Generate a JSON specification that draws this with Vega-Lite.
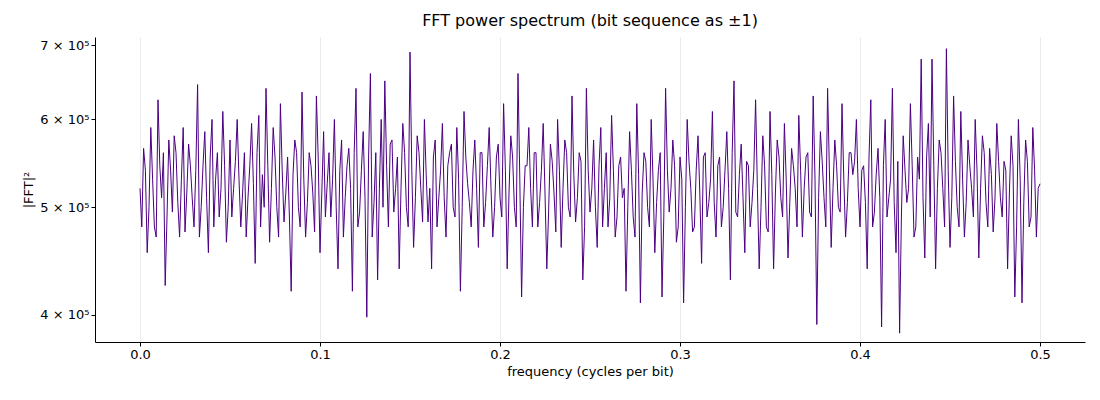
{
  "$schema": "https://vega.github.io/schema/vega-lite/v6.json",
  "width": 990,
  "height": 305,
  "autosize": "none",
  "padding": {"left": 95, "top": 37, "right": 15, "bottom": 58},
  "background": "white",
  "title": {"text": "FFT power spectrum (bit sequence as ±1)", "font": "DejaVu Sans", "fontSize": 16, "fontWeight": "normal", "offset": 8},
  "data": {"values": [
{"f":0.000,"p":520000},{"f":0.002,"p":565000},{"f":0.004,"p":455000},{"f":0.006,"p":590000},{"f":0.008,"p":480000},{"f":0.010,"p":625000},{"f":0.012,"p":510000},{"f":0.014,"p":425000},{"f":0.016,"p":575000},{"f":0.018,"p":495000},
{"f":0.020,"p":560000},{"f":0.022,"p":470000},{"f":0.024,"p":590000},{"f":0.026,"p":515000},{"f":0.028,"p":545000},{"f":0.030,"p":480000},{"f":0.032,"p":645000},{"f":0.034,"p":500000},{"f":0.036,"p":585000},{"f":0.038,"p":455000},
{"f":0.040,"p":600000},{"f":0.042,"p":530000},{"f":0.044,"p":490000},{"f":0.046,"p":610000},{"f":0.048,"p":465000},{"f":0.050,"p":575000},{"f":0.052,"p":520000},{"f":0.054,"p":600000},{"f":0.056,"p":480000},{"f":0.058,"p":560000},
{"f":0.060,"p":510000},{"f":0.062,"p":595000},{"f":0.064,"p":445000},{"f":0.066,"p":605000},{"f":0.068,"p":535000},{"f":0.070,"p":640000},{"f":0.072,"p":465000},{"f":0.074,"p":590000},{"f":0.076,"p":500000},{"f":0.078,"p":620000},
{"f":0.080,"p":485000},{"f":0.082,"p":555000},{"f":0.084,"p":420000},{"f":0.086,"p":575000},{"f":0.088,"p":500000},{"f":0.090,"p":635000},{"f":0.092,"p":470000},{"f":0.094,"p":560000},{"f":0.096,"p":515000},{"f":0.098,"p":630000},
{"f":0.100,"p":455000},{"f":0.102,"p":585000},{"f":0.104,"p":525000},{"f":0.106,"p":490000},{"f":0.108,"p":600000},{"f":0.110,"p":440000},{"f":0.112,"p":575000},{"f":0.114,"p":510000},{"f":0.116,"p":565000},{"f":0.118,"p":420000},
{"f":0.120,"p":640000},{"f":0.122,"p":495000},{"f":0.124,"p":585000},{"f":0.126,"p":398000},{"f":0.128,"p":660000},{"f":0.130,"p":505000},{"f":0.132,"p":430000},{"f":0.134,"p":600000},{"f":0.136,"p":650000},{"f":0.138,"p":480000},
{"f":0.140,"p":575000},{"f":0.142,"p":520000},{"f":0.144,"p":440000},{"f":0.146,"p":595000},{"f":0.148,"p":500000},{"f":0.150,"p":690000},{"f":0.152,"p":460000},{"f":0.154,"p":580000},{"f":0.156,"p":520000},{"f":0.158,"p":600000},
{"f":0.160,"p":485000},{"f":0.162,"p":440000},{"f":0.164,"p":575000},{"f":0.166,"p":510000},{"f":0.168,"p":595000},{"f":0.170,"p":470000},{"f":0.172,"p":560000},{"f":0.174,"p":500000},{"f":0.176,"p":590000},{"f":0.178,"p":420000},
{"f":0.180,"p":610000},{"f":0.182,"p":525000},{"f":0.184,"p":480000},{"f":0.186,"p":575000},{"f":0.188,"p":460000},{"f":0.190,"p":560000},{"f":0.192,"p":505000},{"f":0.194,"p":590000},{"f":0.196,"p":470000},{"f":0.198,"p":555000},
{"f":0.200,"p":510000},{"f":0.202,"p":620000},{"f":0.204,"p":440000},{"f":0.206,"p":580000},{"f":0.208,"p":500000},{"f":0.210,"p":660000},{"f":0.212,"p":415000},{"f":0.214,"p":545000},{"f":0.216,"p":590000},{"f":0.218,"p":480000},
{"f":0.220,"p":560000},{"f":0.222,"p":505000},{"f":0.224,"p":595000},{"f":0.226,"p":440000},{"f":0.228,"p":570000},{"f":0.230,"p":515000},{"f":0.232,"p":600000},{"f":0.234,"p":460000},{"f":0.236,"p":575000},{"f":0.238,"p":500000},
{"f":0.240,"p":630000},{"f":0.242,"p":485000},{"f":0.244,"p":560000},{"f":0.246,"p":430000},{"f":0.248,"p":640000},{"f":0.250,"p":495000},{"f":0.252,"p":575000},{"f":0.254,"p":460000},{"f":0.256,"p":590000},{"f":0.258,"p":520000},
{"f":0.260,"p":480000},{"f":0.262,"p":605000},{"f":0.264,"p":470000},{"f":0.266,"p":545000},{"f":0.268,"p":510000},{"f":0.270,"p":420000},{"f":0.272,"p":585000},{"f":0.274,"p":490000},{"f":0.276,"p":620000},{"f":0.278,"p":410000},
{"f":0.280,"p":560000},{"f":0.282,"p":500000},{"f":0.284,"p":600000},{"f":0.286,"p":455000},{"f":0.288,"p":540000},{"f":0.290,"p":415000},{"f":0.292,"p":640000},{"f":0.294,"p":495000},{"f":0.296,"p":575000},{"f":0.298,"p":465000},
{"f":0.300,"p":555000},{"f":0.302,"p":410000},{"f":0.304,"p":600000},{"f":0.306,"p":520000},{"f":0.308,"p":480000},{"f":0.310,"p":580000},{"f":0.312,"p":445000},{"f":0.314,"p":560000},{"f":0.316,"p":505000},{"f":0.318,"p":610000},
{"f":0.320,"p":470000},{"f":0.322,"p":555000},{"f":0.324,"p":500000},{"f":0.326,"p":585000},{"f":0.328,"p":430000},{"f":0.330,"p":650000},{"f":0.332,"p":490000},{"f":0.334,"p":570000},{"f":0.336,"p":455000},{"f":0.338,"p":545000},
{"f":0.340,"p":505000},{"f":0.342,"p":625000},{"f":0.344,"p":440000},{"f":0.346,"p":580000},{"f":0.348,"p":480000},{"f":0.350,"p":610000},{"f":0.352,"p":440000},{"f":0.354,"p":575000},{"f":0.356,"p":510000},{"f":0.358,"p":595000},
{"f":0.360,"p":450000},{"f":0.362,"p":565000},{"f":0.364,"p":520000},{"f":0.366,"p":605000},{"f":0.368,"p":470000},{"f":0.370,"p":555000},{"f":0.372,"p":495000},{"f":0.374,"p":630000},{"f":0.376,"p":392000},{"f":0.378,"p":585000},
{"f":0.380,"p":510000},{"f":0.382,"p":640000},{"f":0.384,"p":460000},{"f":0.386,"p":575000},{"f":0.388,"p":500000},{"f":0.390,"p":620000},{"f":0.392,"p":470000},{"f":0.394,"p":560000},{"f":0.396,"p":535000},{"f":0.398,"p":600000},
{"f":0.400,"p":480000},{"f":0.402,"p":545000},{"f":0.404,"p":440000},{"f":0.406,"p":625000},{"f":0.408,"p":495000},{"f":0.410,"p":565000},{"f":0.412,"p":390000},{"f":0.414,"p":600000},{"f":0.416,"p":510000},{"f":0.418,"p":640000},
{"f":0.420,"p":455000},{"f":0.422,"p":385000},{"f":0.424,"p":580000},{"f":0.426,"p":505000},{"f":0.428,"p":620000},{"f":0.430,"p":470000},{"f":0.432,"p":555000},{"f":0.434,"p":680000},{"f":0.436,"p":450000},{"f":0.438,"p":595000},
{"f":0.440,"p":680000},{"f":0.442,"p":440000},{"f":0.444,"p":575000},{"f":0.446,"p":520000},{"f":0.448,"p":695000},{"f":0.450,"p":460000},{"f":0.452,"p":630000},{"f":0.454,"p":500000},{"f":0.456,"p":610000},{"f":0.458,"p":470000},
{"f":0.460,"p":575000},{"f":0.462,"p":520000},{"f":0.464,"p":600000},{"f":0.466,"p":450000},{"f":0.468,"p":580000},{"f":0.470,"p":505000},{"f":0.472,"p":565000},{"f":0.474,"p":475000},{"f":0.476,"p":595000},{"f":0.478,"p":510000},
{"f":0.480,"p":550000},{"f":0.482,"p":440000},{"f":0.484,"p":580000},{"f":0.486,"p":415000},{"f":0.488,"p":600000},{"f":0.490,"p":410000},{"f":0.492,"p":575000},{"f":0.494,"p":480000},{"f":0.496,"p":590000},{"f":0.498,"p":470000},
{"f":0.500,"p":525000},
{"f":0.001,"p":480000},{"f":0.003,"p":540000},{"f":0.005,"p":500000},{"f":0.007,"p":530000},{"f":0.009,"p":470000},{"f":0.011,"p":545000},{"f":0.013,"p":560000},{"f":0.015,"p":490000},{"f":0.017,"p":540000},{"f":0.019,"p":580000},
{"f":0.021,"p":505000},{"f":0.023,"p":530000},{"f":0.025,"p":475000},{"f":0.027,"p":570000},{"f":0.029,"p":510000},{"f":0.031,"p":540000},{"f":0.033,"p":470000},{"f":0.035,"p":545000},{"f":0.037,"p":510000},{"f":0.039,"p":555000},
{"f":0.041,"p":480000},{"f":0.043,"p":560000},{"f":0.045,"p":520000},{"f":0.047,"p":545000},{"f":0.049,"p":500000},{"f":0.051,"p":490000},{"f":0.053,"p":550000},{"f":0.055,"p":530000},{"f":0.057,"p":515000},{"f":0.059,"p":470000},
{"f":0.061,"p":545000},{"f":0.063,"p":525000},{"f":0.065,"p":560000},{"f":0.067,"p":480000},{"f":0.069,"p":500000},{"f":0.071,"p":545000},{"f":0.073,"p":520000},{"f":0.075,"p":555000},{"f":0.077,"p":470000},{"f":0.079,"p":540000},
{"f":0.081,"p":515000},{"f":0.083,"p":490000},{"f":0.085,"p":535000},{"f":0.087,"p":560000},{"f":0.089,"p":480000},{"f":0.091,"p":530000},{"f":0.093,"p":505000},{"f":0.095,"p":545000},{"f":0.097,"p":475000},{"f":0.099,"p":555000},
{"f":0.101,"p":515000},{"f":0.103,"p":490000},{"f":0.105,"p":560000},{"f":0.107,"p":530000},{"f":0.109,"p":500000},{"f":0.111,"p":540000},{"f":0.113,"p":470000},{"f":0.115,"p":545000},{"f":0.117,"p":520000},{"f":0.119,"p":560000},
{"f":0.121,"p":480000},{"f":0.123,"p":540000},{"f":0.125,"p":510000},{"f":0.127,"p":555000},{"f":0.129,"p":470000},{"f":0.131,"p":560000},{"f":0.133,"p":520000},{"f":0.135,"p":500000},{"f":0.137,"p":545000},{"f":0.139,"p":570000},
{"f":0.141,"p":495000},{"f":0.143,"p":555000},{"f":0.145,"p":520000},{"f":0.147,"p":560000},{"f":0.149,"p":480000},{"f":0.151,"p":540000},{"f":0.153,"p":510000},{"f":0.155,"p":560000},{"f":0.157,"p":485000},{"f":0.159,"p":535000},
{"f":0.161,"p":520000},{"f":0.163,"p":555000},{"f":0.165,"p":480000},{"f":0.167,"p":540000},{"f":0.169,"p":510000},{"f":0.171,"p":545000},{"f":0.173,"p":570000},{"f":0.175,"p":490000},{"f":0.177,"p":530000},{"f":0.179,"p":500000},
{"f":0.181,"p":555000},{"f":0.183,"p":505000},{"f":0.185,"p":540000},{"f":0.187,"p":520000},{"f":0.189,"p":560000},{"f":0.191,"p":480000},{"f":0.193,"p":545000},{"f":0.195,"p":520000},{"f":0.197,"p":500000},{"f":0.199,"p":570000},
{"f":0.201,"p":490000},{"f":0.203,"p":540000},{"f":0.205,"p":515000},{"f":0.207,"p":555000},{"f":0.209,"p":480000},{"f":0.211,"p":530000},{"f":0.213,"p":500000},{"f":0.215,"p":545000},{"f":0.217,"p":520000},{"f":0.219,"p":560000},
{"f":0.221,"p":480000},{"f":0.223,"p":540000},{"f":0.225,"p":515000},{"f":0.227,"p":495000},{"f":0.229,"p":550000},{"f":0.231,"p":475000},{"f":0.233,"p":540000},{"f":0.235,"p":520000},{"f":0.237,"p":560000},{"f":0.239,"p":490000},
{"f":0.241,"p":535000},{"f":0.243,"p":510000},{"f":0.245,"p":550000},{"f":0.247,"p":480000},{"f":0.249,"p":540000},{"f":0.251,"p":520000},{"f":0.253,"p":500000},{"f":0.255,"p":545000},{"f":0.257,"p":480000},{"f":0.259,"p":560000},
{"f":0.261,"p":510000},{"f":0.263,"p":540000},{"f":0.265,"p":490000},{"f":0.267,"p":555000},{"f":0.269,"p":520000},{"f":0.271,"p":500000},{"f":0.273,"p":540000},{"f":0.275,"p":470000},{"f":0.277,"p":535000},{"f":0.279,"p":515000},
{"f":0.281,"p":550000},{"f":0.283,"p":480000},{"f":0.285,"p":530000},{"f":0.287,"p":505000},{"f":0.289,"p":560000},{"f":0.291,"p":490000},{"f":0.293,"p":540000},{"f":0.295,"p":520000},{"f":0.297,"p":545000},{"f":0.299,"p":480000},
{"f":0.301,"p":530000},{"f":0.303,"p":500000},{"f":0.305,"p":550000},{"f":0.307,"p":475000},{"f":0.309,"p":540000},{"f":0.311,"p":515000},{"f":0.313,"p":555000},{"f":0.315,"p":490000},{"f":0.317,"p":530000},{"f":0.319,"p":505000},
{"f":0.321,"p":545000},{"f":0.323,"p":480000},{"f":0.325,"p":540000},{"f":0.327,"p":520000},{"f":0.329,"p":560000},{"f":0.331,"p":495000},{"f":0.333,"p":535000},{"f":0.335,"p":510000},{"f":0.337,"p":550000},{"f":0.339,"p":480000},
{"f":0.341,"p":540000},{"f":0.343,"p":520000},{"f":0.345,"p":500000},{"f":0.347,"p":545000},{"f":0.349,"p":475000},{"f":0.351,"p":535000},{"f":0.353,"p":515000},{"f":0.355,"p":555000},{"f":0.357,"p":490000},{"f":0.359,"p":530000},
{"f":0.361,"p":505000},{"f":0.363,"p":545000},{"f":0.365,"p":480000},{"f":0.367,"p":540000},{"f":0.369,"p":520000},{"f":0.371,"p":560000},{"f":0.373,"p":490000},{"f":0.375,"p":530000},{"f":0.377,"p":510000},{"f":0.379,"p":550000},
{"f":0.381,"p":480000},{"f":0.383,"p":540000},{"f":0.385,"p":520000},{"f":0.387,"p":545000},{"f":0.389,"p":495000},{"f":0.391,"p":530000},{"f":0.393,"p":505000},{"f":0.395,"p":560000},{"f":0.397,"p":550000},{"f":0.399,"p":520000},
{"f":0.401,"p":540000},{"f":0.403,"p":505000},{"f":0.405,"p":555000},{"f":0.407,"p":480000},{"f":0.409,"p":535000},{"f":0.411,"p":510000},{"f":0.413,"p":545000},{"f":0.415,"p":490000},{"f":0.417,"p":530000},{"f":0.419,"p":505000},
{"f":0.421,"p":550000},{"f":0.423,"p":490000},{"f":0.425,"p":540000},{"f":0.427,"p":520000},{"f":0.429,"p":545000},{"f":0.431,"p":480000},{"f":0.433,"p":530000},{"f":0.435,"p":510000},{"f":0.437,"p":555000},{"f":0.439,"p":490000},
{"f":0.441,"p":545000},{"f":0.443,"p":520000},{"f":0.445,"p":560000},{"f":0.447,"p":480000},{"f":0.449,"p":540000},{"f":0.451,"p":510000},{"f":0.453,"p":550000},{"f":0.455,"p":480000},{"f":0.457,"p":530000},{"f":0.459,"p":505000},
{"f":0.461,"p":545000},{"f":0.463,"p":490000},{"f":0.465,"p":540000},{"f":0.467,"p":520000},{"f":0.469,"p":560000},{"f":0.471,"p":480000},{"f":0.473,"p":535000},{"f":0.475,"p":510000},{"f":0.477,"p":550000},{"f":0.479,"p":490000},
{"f":0.481,"p":540000},{"f":0.483,"p":515000},{"f":0.485,"p":545000},{"f":0.487,"p":480000},{"f":0.489,"p":530000},{"f":0.491,"p":505000},{"f":0.493,"p":550000},{"f":0.495,"p":490000},{"f":0.497,"p":540000},{"f":0.499,"p":520000}
  ]},
  "mark": {"type": "line", "color": "#4b0082", "strokeWidth": 1},
  "encoding": {
    "x": {
      "field": "f", "type": "quantitative",
      "title": "frequency (cycles per bit)",
      "scale": {"domain": [-0.025, 0.525], "nice": false, "zero": false},
      "axis": {"values": [0, 0.1, 0.2, 0.3, 0.4, 0.5], "format": ".1f", "grid": true, "gridColor": "#ebebeb"}
    },
    "y": {
      "field": "p", "type": "quantitative",
      "title": "|FFT|²",
      "scale": {"type": "log", "domain": [378000, 712000], "nice": false},
      "axis": {"values": [400000, 500000, 600000, 700000], "grid": false,
        "labelExpr": "format(datum.value/100000, 'd') + ' × 10⁵'"}
    }
  },
  "config": {
    "font": "DejaVu Sans",
    "view": {"stroke": null},
    "axis": {"labelFont": "DejaVu Sans", "titleFont": "DejaVu Sans", "labelFontSize": 13, "titleFontSize": 13, "titleFontWeight": "normal", "labelColor": "black", "titleColor": "black", "domainColor": "black", "tickColor": "black", "tickSize": 4}
  }
}
